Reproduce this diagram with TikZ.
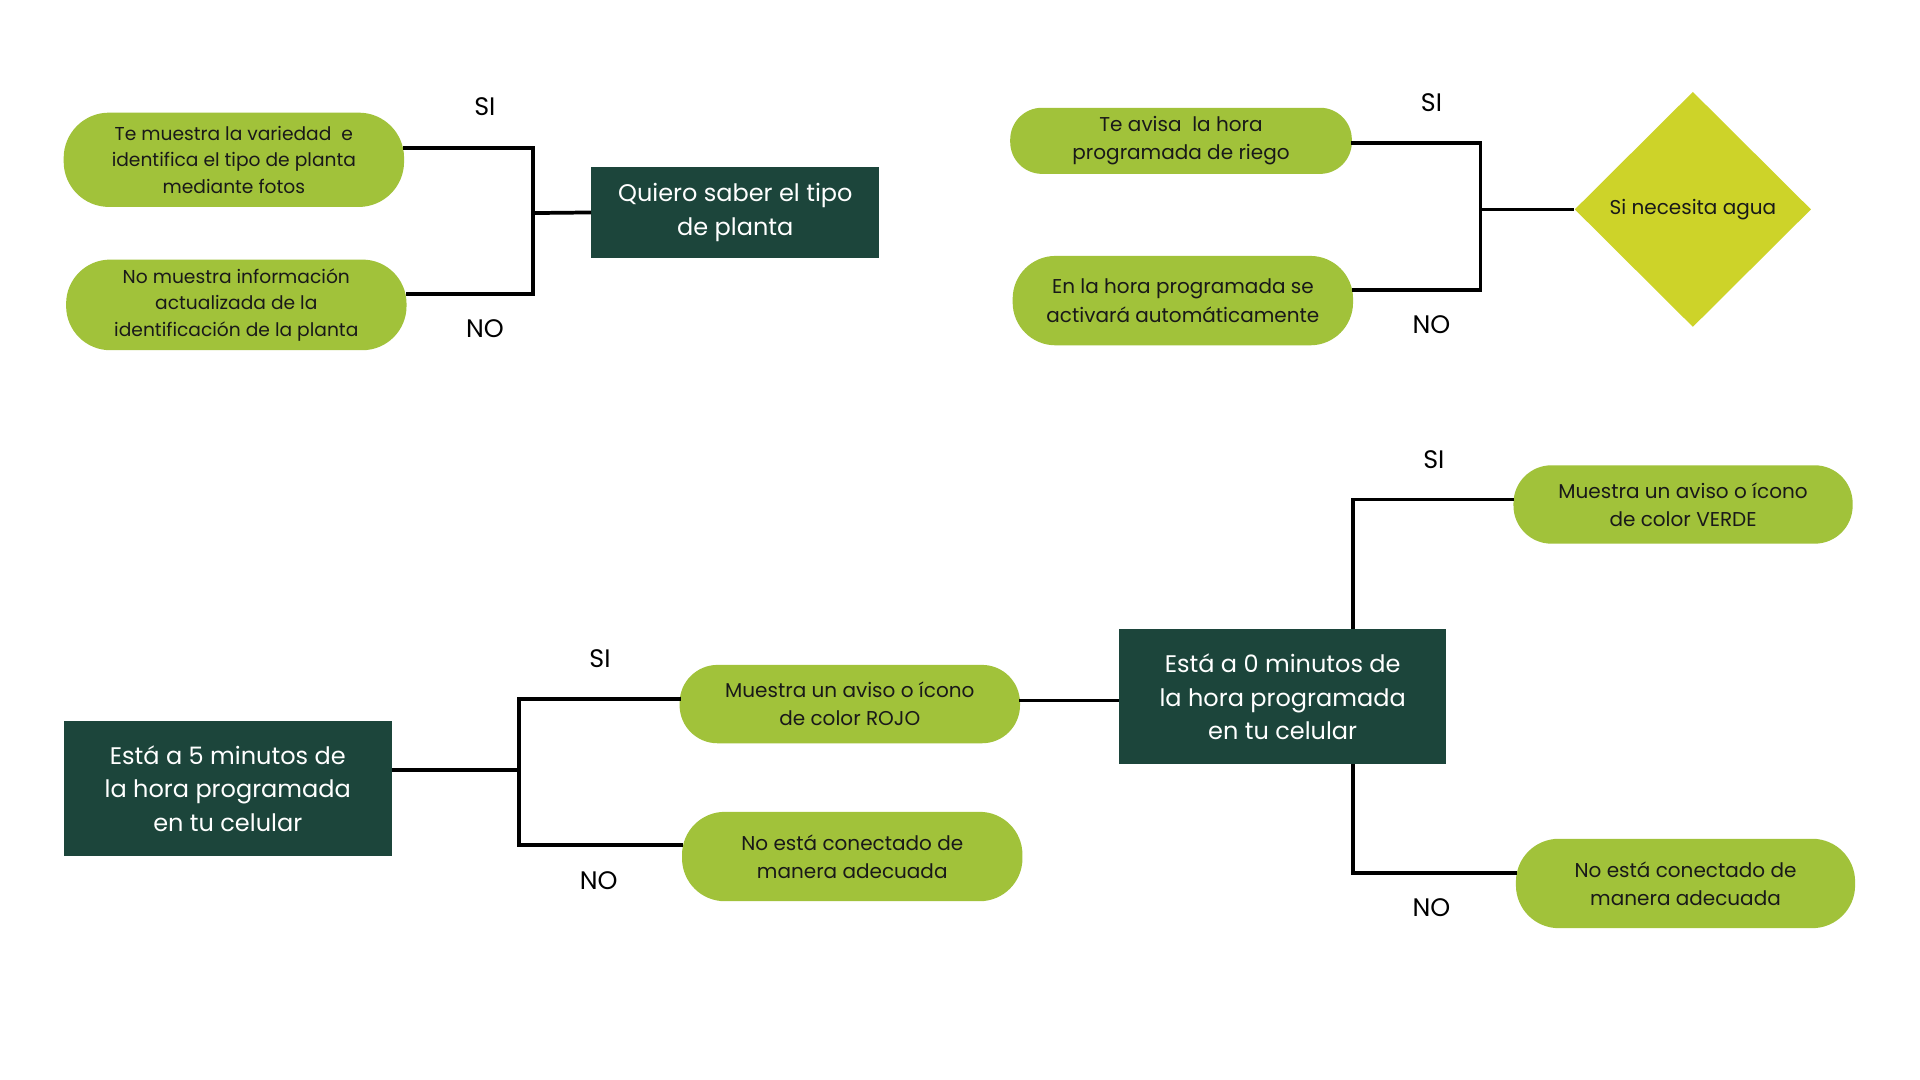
\documentclass[tikz,border=0pt]{standalone}
\usepackage{fontspec}
\setmainfont{Poppins}
\usetikzlibrary{shapes.geometric,calc}
\definecolor{pillgreen}{RGB}{161,194,58}
\definecolor{darkbox}{RGB}{28,69,59}
\definecolor{lime}{RGB}{205,211,41}
\definecolor{txt}{RGB}{25,25,25}
\def\u{0.91837pt}
\tikzset{
  pill/.style={fill=pillgreen, text=txt, align=center, inner sep=0pt,
    font=\fontsize{15}{21.2}\selectfont, minimum width=278*\u},
  pillsmall/.style={pill, font=\fontsize{14}{19.9}\selectfont},
  darkbox/.style={fill=darkbox, text=white, align=center, inner sep=0pt,
    font=\fontsize{18}{25}\selectfont},
  conn/.style={draw=black, line width=2.8pt},
  yesno/.style={text=black, font=\fontsize{19}{21}\selectfont, inner sep=0pt}
}
\begin{document}
\begin{tikzpicture}[x=\u, y=-\u]
\useasboundingbox[fill=white] (0,0) rectangle (1568,882);

% ---------- top left ----------
\node[pillsmall, minimum height=77*\u, rounded corners=37*\u] (p1) at (191,130.5)
  {Te muestra la variedad\ \ e\\identifica el tipo de planta\\mediante fotos};
\node[pillsmall, minimum height=74*\u, rounded corners=36*\u] (p2) at (193,249)
  {No muestra información\\actualizada de la\\identificación de la planta};
\node[darkbox, minimum width=235*\u, minimum height=75*\u] (b1) at (600.5,173.5)
  {Quiero saber el tipo\\de planta};
\coordinate (j1) at (435,174);
\coordinate (j1t) at (435,121);
\coordinate (j1b) at (435,240);
\draw[conn] ($(p1.east)+(-1,-9.5)$) -- (j1t) -- (j1b) -- ($(p2.east)+(-1,-9)$);
\draw[conn] (j1) -- (b1.west);
\node[yesno] (si1) at (396,87) {SI};
\node[yesno] (no1) at (396,268) {NO};

% ---------- top right ----------
\node[pill, minimum width=279*\u, minimum height=54*\u, rounded corners=26*\u] (p3) at (964.5,115)
  {Te avisa\ \ la hora\\programada de riego};
\node[pill, minimum height=73*\u, rounded corners=35*\u] (p4) at (966,245.5)
  {En la hora programada se\\activará automáticamente};
\node[diamond, aspect=1, fill=lime, text=txt, inner sep=0pt, minimum width=193*\u, minimum height=192*\u,
  font=\fontsize{15}{21}\selectfont] (d1) at (1382.5,171) {Si necesita agua};
\coordinate (j2) at (1209,171);
\coordinate (j2t) at (1209,117);
\coordinate (j2b) at (1209,237);
\draw[conn] ($(p3.east)+(-1,2)$) -- (j2t) -- (j2b) -- ($(p4.east)+(-1,-8.5)$);
\draw[conn] (j2) -- (d1.west);
\node[yesno] (si2) at (1169,84) {SI};
\node[yesno] (no2) at (1169,265) {NO};

% ---------- bottom ----------
\node[darkbox, minimum width=268*\u, minimum height=110*\u] (b5) at (186,644)
  {Está a 5 minutos de\\la hora programada\\en tu celular};
\node[pill, minimum height=64*\u, rounded corners=31*\u] (pr) at (694,575)
  {Muestra un aviso o ícono\\de color ROJO};
\node[pill, minimum height=73*\u, rounded corners=35*\u] (pn1) at (696,699.5)
  {No está conectado de\\manera adecuada};
\node[darkbox, minimum width=267*\u, minimum height=110*\u] (b0) at (1047.5,569)
  {Está a 0 minutos de\\la hora programada\\en tu celular};
\node[pill, minimum width=277*\u, minimum height=64*\u, rounded corners=31*\u] (pv) at (1374.5,412)
  {Muestra un aviso o ícono\\de color VERDE};
\node[pill, minimum width=277*\u, minimum height=73*\u, rounded corners=35*\u] (pn2) at (1376.5,721.5)
  {No está conectado de\\manera adecuada};

\coordinate (j3) at (424,629);
\coordinate (j3t) at (424,571);
\coordinate (j3b) at (424,690);
\draw[conn] (b5.east|-j3) -- (j3);
\draw[conn] ($(pr.west)+(1,-4)$) -- (j3t) -- (j3b) -- ($(pn1.west)+(1,-9.5)$);
\draw[conn] ($(pr.east)+(-1,-3)$) -- (b0.west|-{$(pr.east)+(0,-3)$});

\coordinate (j4t) at (1105,408);
\coordinate (j4b) at (1105,713);
\draw[conn] (b0.north-|j4t) -- (j4t) -- ($(pv.west)+(1,-4)$);
\draw[conn] (b0.south-|j4b) -- (j4b) -- ($(pn2.west)+(1,-8.5)$);

\node[yesno] (si3) at (490,538) {SI};
\node[yesno] (no3) at (489,719) {NO};
\node[yesno] (si4) at (1171,375) {SI};
\node[yesno] (no4) at (1169,741) {NO};
\end{tikzpicture}
\end{document}
